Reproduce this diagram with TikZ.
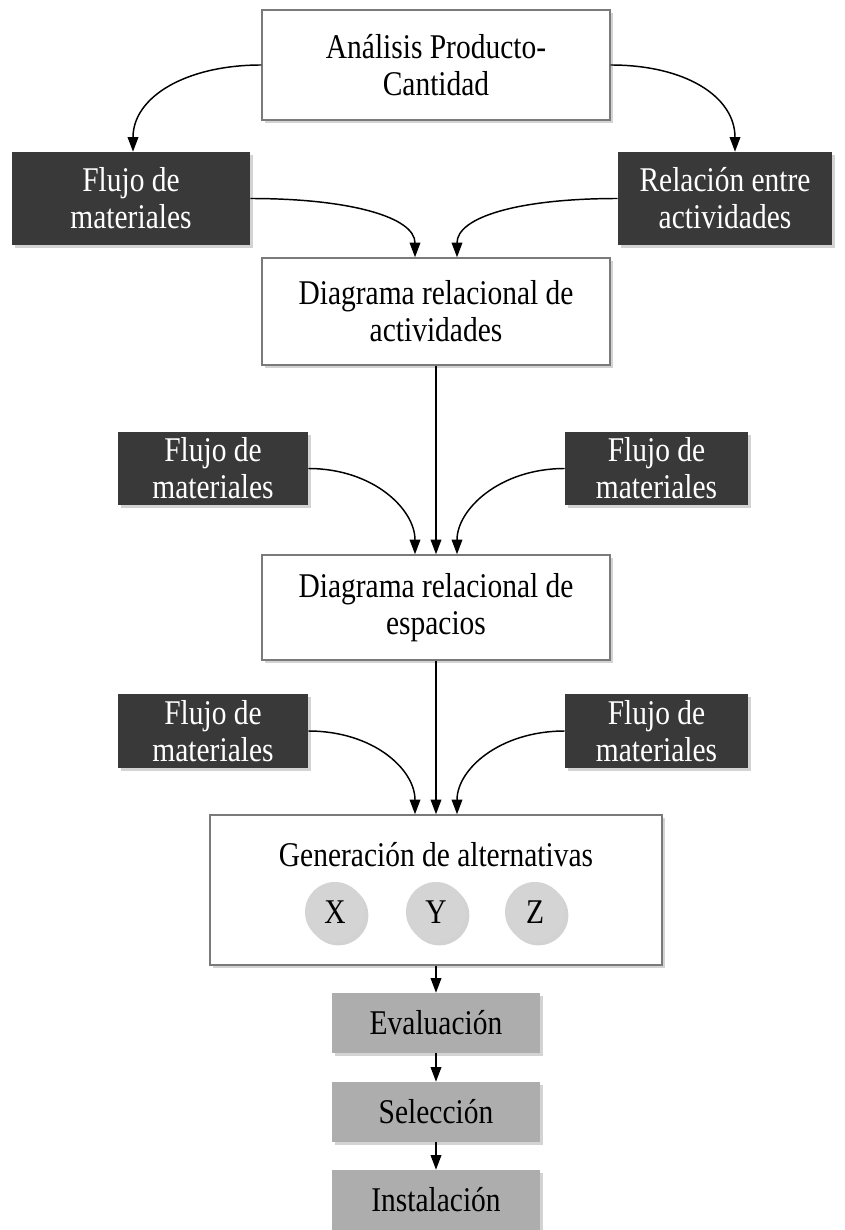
\documentclass[tikz,border=0pt]{standalone}
\usepackage{fontspec}
\setmainfont{Liberation Serif}[FakeStretch=0.85]
\usetikzlibrary{arrows.meta,shadows,calc}
\definecolor{darkfill}{HTML}{3A3939}
\definecolor{grayfill}{HTML}{ADADAD}
\definecolor{circfill}{HTML}{D4D4D4}
\definecolor{edgegray}{HTML}{7A7A7A}
\begin{document}
\begin{tikzpicture}[x=0.75pt,y=-0.75pt,
  font=\fontsize{26}{27.75}\selectfont,
  shad/.style={drop shadow={shadow xshift=2.5pt,shadow yshift=-2.5pt,opacity=0.35}},
  whitebox/.style={draw=edgegray,line width=1.1pt,fill=white,align=center,inner sep=0pt,shad},
  darkbox/.style={draw=none,fill=darkfill,text=white,align=center,inner sep=0pt,shad},
  graybox/.style={draw=none,fill=grayfill,align=center,inner sep=0pt,shad},
  altcirc/.style={circle,draw=none,fill=circfill,minimum size=45pt,inner sep=0pt,shad},
  arr/.style={-{Triangle[length=11pt,width=8pt]},line width=1.1pt,black}]
\useasboundingbox (0,0) rectangle (844,1230);
% main boxes
\node[whitebox,minimum width=261pt,minimum height=82.5pt] (A) at (436,65) {Análisis Producto-\\Cantidad};
\node[darkbox,minimum width=178.5pt,minimum height=69.75pt] (L1) at (131,198.5) {Flujo de\\materiales};
\node[darkbox,minimum width=160.5pt,minimum height=69.75pt] (R1) at (725,198.5) {Relación entre\\actividades};
\node[whitebox,minimum width=261pt,minimum height=80.25pt] (B) at (436,311.5) {Diagrama relacional de\\actividades};
\node[darkbox,minimum width=142.5pt,minimum height=54.75pt] (L2) at (213,468.5) {Flujo de\\materiales};
\node[darkbox,minimum width=137.25pt,minimum height=54.75pt] (R2) at (656.5,468.5) {Flujo de\\materiales};
\node[whitebox,minimum width=261pt,minimum height=78.75pt] (C) at (436,607.5) {Diagrama relacional de\\espacios};
\node[darkbox,minimum width=142.5pt,minimum height=55.5pt] (L3) at (213,731) {Flujo de\\materiales};
\node[darkbox,minimum width=137.25pt,minimum height=55.5pt] (R3) at (656.5,731) {Flujo de\\materiales};
\node[whitebox,minimum width=339pt,minimum height=112.5pt] (D) at (436,890) {};
\node[anchor=base] (Dt) at (436,866) {Generación de alternativas};
\node[altcirc] (X) at (335,912) {X};
\node[altcirc] (Y) at (436,912) {Y};
\node[altcirc] (Z) at (535,912) {Z};
\node[graybox,minimum width=156pt,minimum height=45pt] (E) at (436,1023) {Evaluación};
\node[graybox,minimum width=156pt,minimum height=45pt] (F) at (436,1112) {Selección};
\node[graybox,minimum width=156pt,minimum height=45pt] (G) at (436,1200) {Instalación};
% connectors
\coordinate (B1) at ($(B.north)+(-21,0)$);
\coordinate (B2) at ($(B.north)+(21,0)$);
\coordinate (C1) at ($(C.north)+(-21,0)$);
\coordinate (C2) at ($(C.north)+(21,0)$);
\coordinate (D1) at ($(D.north)+(-21,0)$);
\coordinate (D2) at ($(D.north)+(21,0)$);
\coordinate (L1t) at ($(L1.north)+(2,0)$);
\coordinate (R1t) at ($(R1.north)+(10,0)$);
\draw[arr] (A.west) .. controls +(-75,0) and +(0,-55) .. (L1t);
\draw[arr] (A.east) .. controls +(75,0) and +(0,-55) .. (R1t);
\draw[arr] (L1.east) .. controls +(100,0) and +(0,-40) .. (B1);
\draw[arr] (R1.west) .. controls +(-100,0) and +(0,-40) .. (B2);
\draw[arr] (B.south) -- (C.north);
\draw[arr] (L2.east) .. controls +(65,0) and +(0,-45) .. (C1);
\draw[arr] (R2.west) .. controls +(-65,0) and +(0,-45) .. (C2);
\draw[arr] (C.south) -- (D.north);
\draw[arr] (L3.east) .. controls +(65,0) and +(0,-45) .. (D1);
\draw[arr] (R3.west) .. controls +(-65,0) and +(0,-45) .. (D2);
\draw[arr] (D.south) -- (E.north);
\draw[arr] (E.south) -- (F.north);
\draw[arr] (F.south) -- (G.north);
\end{tikzpicture}
\end{document}
